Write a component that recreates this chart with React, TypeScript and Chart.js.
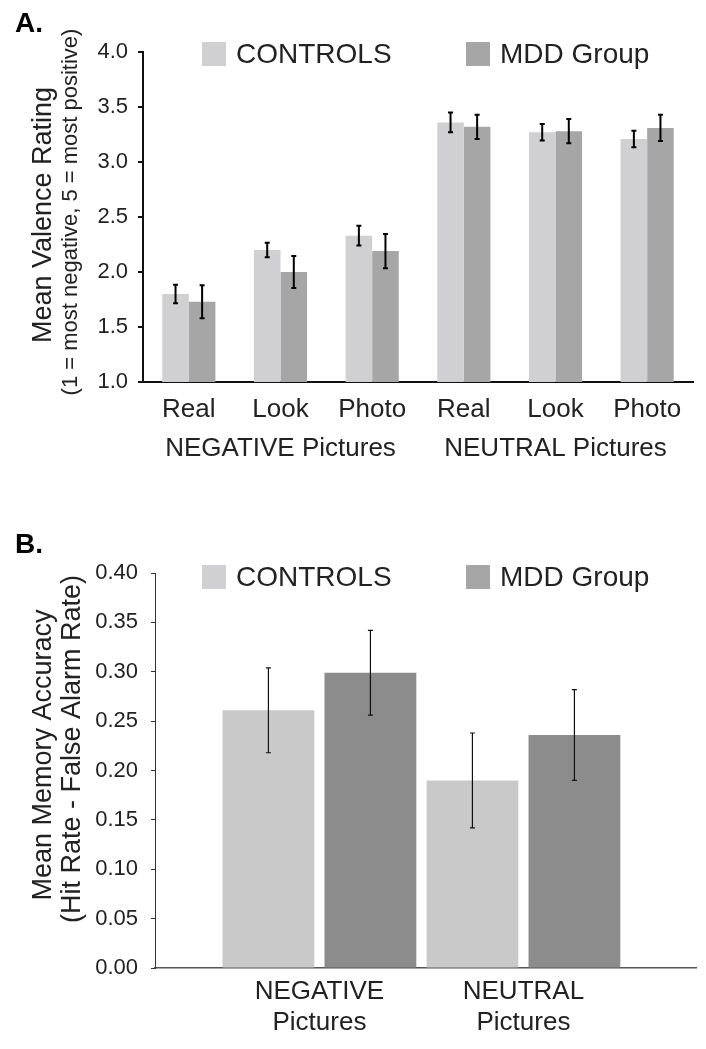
import React, { useEffect, useRef } from 'react';
import { Chart, registerables } from 'chart.js';

Chart.register(...registerables);

// ---------- DATA ----------
const SERIES_NAMES = ['CONTROLS', 'MDD Group'];

// Panel A
const CONDITIONS_A = ['Real', 'Look', 'Photo', 'Real', 'Look', 'Photo'];
const GROUPS_A = ['NEGATIVE Pictures', 'NEUTRAL Pictures'];
const CONTROLS_A = [1.80, 2.20, 2.33, 3.36, 3.27, 3.21];
const MDD_A = [1.73, 2.00, 2.19, 3.32, 3.28, 3.31];
const CONTROLS_A_ERR = [0.085, 0.065, 0.09, 0.09, 0.075, 0.075];
const MDD_A_ERR = [0.15, 0.145, 0.155, 0.11, 0.11, 0.12];
const Y_TITLE_A = 'Mean Valence Rating';
const Y_SUBTITLE_A = '(1 = most negative, 5 = most positive)';

// Panel B
const CATEGORIES_B = [['NEGATIVE', 'Pictures'], ['NEUTRAL', 'Pictures']];
const CONTROLS_B = [0.261, 0.190];
const MDD_B = [0.299, 0.236];
const CONTROLS_B_ERR = [0.043, 0.048];
const MDD_B_ERR = [0.043, 0.046];
const Y_TITLE_B = 'Mean Memory Accuracy';
const Y_SUBTITLE_B = '(Hit Rate - False Alarm Rate)';

// ---------- STYLE ----------
const FONT = '"Liberation Sans", Arial, sans-serif';
const TEXT = '#222222';
const LIGHT_A = '#d0d0d2';
const DARK_A = '#a6a6a6';
const LIGHT_B = '#c9c9c9';
const DARK_B = '#8c8c8c';

const errorBarPlugin = {
  id: 'errorBars',
  afterDatasetsDraw(chart: any, _args: any, opts: any) {
    const { ctx } = chart;
    const yScale = chart.scales.y;
    chart.data.datasets.forEach((ds: any, di: number) => {
      const meta = chart.getDatasetMeta(di);
      const errs: number[] = ds.errors || [];
      meta.data.forEach((bar: any, i: number) => {
        const v = meta.controller.getParsed(i).y;
        const e = errs[i];
        if (e == null) return;
        const yHi = yScale.getPixelForValue(v + e);
        const yLo = yScale.getPixelForValue(v - e);
        const x = bar.x;
        ctx.save();
        ctx.strokeStyle = opts.color || '#000';
        ctx.lineWidth = opts.lineWidth || 1;
        ctx.beginPath();
        ctx.moveTo(x, yHi);
        ctx.lineTo(x, yLo);
        ctx.moveTo(x - opts.cap, yHi);
        ctx.lineTo(x + opts.cap, yHi);
        ctx.moveTo(x - opts.cap, yLo);
        ctx.lineTo(x + opts.cap, yLo);
        ctx.stroke();
        ctx.restore();
      });
    });
  },
};

const legendPlugin = {
  id: 'boxLegend',
  afterDraw(chart: any, _args: any, opts: any) {
    const { ctx } = chart;
    ctx.save();
    chart.data.datasets.forEach((ds: any, i: number) => {
      const x = opts.xs[i];
      ctx.fillStyle = opts.colors[i];
      ctx.fillRect(x, opts.top, opts.size, opts.size);
      ctx.fillStyle = TEXT;
      ctx.font = `${opts.fontSize}px ${FONT}`;
      ctx.textBaseline = 'middle';
      ctx.textAlign = 'left';
      ctx.fillText(ds.label, x + opts.size + opts.gap, opts.top + opts.size / 2 + 1);
    });
    ctx.restore();
  },
};

const textPlugin = {
  id: 'freeText',
  afterDraw(chart: any, _args: any, opts: any) {
    const { ctx } = chart;
    (opts.items || []).forEach((t: any) => {
      ctx.save();
      ctx.fillStyle = t.color || TEXT;
      ctx.font = t.font;
      ctx.textAlign = t.align || 'center';
      ctx.textBaseline = t.baseline || 'middle';
      ctx.translate(t.x, t.y);
      if (t.rotate) ctx.rotate(t.rotate);
      ctx.fillText(t.text, 0, 0);
      ctx.restore();
    });
  },
};

function ChartA() {
  const ref = useRef<HTMLCanvasElement>(null);
  useEffect(() => {
    const chart = new Chart(ref.current as HTMLCanvasElement, {
      type: 'bar',
      data: {
        labels: CONDITIONS_A,
        datasets: [
          { label: SERIES_NAMES[0], data: CONTROLS_A, backgroundColor: LIGHT_A, errors: CONTROLS_A_ERR } as any,
          { label: SERIES_NAMES[1], data: MDD_A, backgroundColor: DARK_A, errors: MDD_A_ERR } as any,
        ],
      },
      options: {
        responsive: false,
        animation: false,
        events: [],
        layout: { padding: { top: 52, right: 13, left: 0, bottom: 0 } },
        datasets: { bar: { categoryPercentage: 0.58, barPercentage: 1.0 } },
        plugins: {
          legend: { display: false },
          tooltip: { enabled: false },
          errorBars: { color: '#000', lineWidth: 2, cap: 2.5 },
          boxLegend: { xs: [202, 466], top: 42, size: 24, gap: 10, fontSize: 28, colors: [LIGHT_A, DARK_A] },
          freeText: {
            items: [
              { text: 'A.', x: 15, y: 32, font: `bold 28px ${FONT}`, align: 'left', baseline: 'alphabetic', color: '#000' },
              { text: Y_TITLE_A, x: 44, y: 215, font: `27px ${FONT}`, rotate: -Math.PI / 2 },
              { text: Y_SUBTITLE_A, x: 71, y: 212, font: `22px ${FONT}`, rotate: -Math.PI / 2 },
            ],
          },
        } as any,
        scales: {
          x: {
            type: 'category',
            position: 'bottom',
            weight: 0,
            offset: true,
            grid: { display: false, drawTicks: false },
            border: { display: true, color: '#111', width: 2 },
            ticks: { font: { family: FONT, size: 26 }, color: TEXT, padding: 12, maxRotation: 0, autoSkip: false },
            afterFit: (s: any) => { s.height = 40; },
          },
          x2: {
            type: 'category',
            labels: GROUPS_A,
            position: 'bottom',
            weight: 1,
            offset: true,
            grid: { display: false, drawTicks: false },
            border: { display: false },
            ticks: { font: { family: FONT, size: 26 }, color: TEXT, padding: 11, maxRotation: 0, autoSkip: false },
            afterFit: (s: any) => { s.height = 58; },
          },
          y: {
            min: 1,
            max: 4,
            ticks: {
              stepSize: 0.5,
              callback: (v: any) => Number(v).toFixed(1),
              font: { family: FONT, size: 22 },
              color: TEXT,
              padding: 10,
            },
            grid: { drawOnChartArea: false, tickLength: 5, color: '#111', lineWidth: 2 },
            border: { color: '#111', width: 2 },
            afterFit: (s: any) => { s.width = 143; },
          },
        } as any,
      },
      plugins: [errorBarPlugin, legendPlugin, textPlugin],
    } as any);
    return () => chart.destroy();
  }, []);
  return <canvas ref={ref} width={706} height={480} style={{ position: 'absolute', left: 0, top: 0, display: 'block' }} />;
}

function ChartB() {
  const ref = useRef<HTMLCanvasElement>(null);
  useEffect(() => {
    const chart = new Chart(ref.current as HTMLCanvasElement, {
      type: 'bar',
      data: {
        datasets: [
          { label: SERIES_NAMES[0], data: CONTROLS_B.map((y, i) => ({ x: i, y })), backgroundColor: LIGHT_B, errors: CONTROLS_B_ERR } as any,
          { label: SERIES_NAMES[1], data: MDD_B.map((y, i) => ({ x: i, y })), backgroundColor: DARK_B, errors: MDD_B_ERR } as any,
        ],
      },
      options: {
        responsive: false,
        animation: false,
        events: [],
        layout: { padding: { top: 73, right: 10, left: 0, bottom: 0 } },
        datasets: { bar: { categoryPercentage: 1.0, barPercentage: 0.9 } },
        plugins: {
          legend: { display: false },
          tooltip: { enabled: false },
          errorBars: { color: '#111', lineWidth: 1.2, cap: 2.5 },
          boxLegend: { xs: [202, 466], top: 65, size: 24, gap: 10, fontSize: 28, colors: [LIGHT_A, DARK_A] },
          freeText: {
            items: [
              { text: 'B.', x: 15, y: 53, font: `bold 28px ${FONT}`, align: 'left', baseline: 'alphabetic', color: '#000' },
              { text: Y_TITLE_B, x: 44, y: 255, font: `27px ${FONT}`, rotate: -Math.PI / 2 },
              { text: Y_SUBTITLE_B, x: 73, y: 249, font: `27px ${FONT}`, rotate: -Math.PI / 2 },
            ],
          },
        } as any,
        scales: {
          x: {
            type: 'linear',
            min: -0.806,
            max: 1.846,
            offset: false,
            bounds: 'data',
            afterBuildTicks: (s: any) => { s.ticks = CATEGORIES_B.map((_, i) => ({ value: i })); },
            grid: { display: false, drawTicks: false, offset: false },
            border: { display: true, color: '#555', width: 1.5 },
            ticks: {
              callback: (v: any) => CATEGORIES_B[v],
              font: { family: FONT, size: 26 },
              color: TEXT,
              padding: 8,
              maxRotation: 0,
              autoSkip: false,
            },
            afterFit: (s: any) => { s.height = 81; },
          },
          y: {
            min: 0,
            max: 0.4,
            ticks: {
              stepSize: 0.05,
              callback: (v: any) => Number(v).toFixed(2),
              font: { family: FONT, size: 22 },
              color: TEXT,
              padding: 13,
            },
            grid: { drawOnChartArea: false, tickLength: 4, color: '#333', lineWidth: 1 },
            border: { color: '#333', width: 1 },
            afterFit: (s: any) => { s.width = 155; },
          },
        } as any,
      },
      plugins: [errorBarPlugin, legendPlugin, textPlugin],
    } as any);
    return () => chart.destroy();
  }, []);
  return <canvas ref={ref} width={706} height={549} style={{ position: 'absolute', left: 0, top: 500, display: 'block' }} />;
}

export default function App() {
  return (
    <div style={{ position: 'absolute', left: 0, top: 0, width: 706, height: 1049, background: '#ffffff', overflow: 'hidden' }}>
      <ChartA />
      <ChartB />
    </div>
  );
}
